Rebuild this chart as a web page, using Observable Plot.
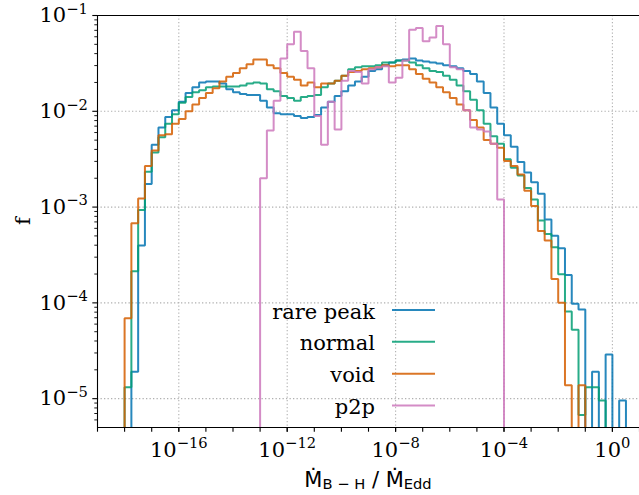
<!DOCTYPE html>
<html><head><meta charset="utf-8">
<script src="https://cdn.jsdelivr.net/npm/d3@7"></script>
<script src="https://cdn.jsdelivr.net/npm/@observablehq/plot@0.6"></script>
<style>html,body{margin:0;padding:0;background:#fff;}</style>
</head><body><div id="chart"></div>
<script>
// bin edges, as log10 of Mdot_BH / Mdot_Edd
const binEdgesExp = [
  -18,-17.75,-17.5,-17.25,-17,-16.75,-16.5,-16.25,
  -16,-15.75,-15.5,-15.25,-15,-14.75,-14.5,-14.25,
  -14,-13.75,-13.5,-13.25,-13,-12.75,-12.5,-12.25,
  -12,-11.75,-11.5,-11.25,-11,-10.75,-10.5,-10.25,
  -10,-9.75,-9.5,-9.25,-9,-8.75,-8.5,-8.25,
  -8,-7.75,-7.5,-7.25,-7,-6.75,-6.5,-6.25,
  -6,-5.75,-5.5,-5.25,-5,-4.75,-4.5,-4.25,
  -4,-3.75,-3.5,-3.25,-3,-2.75,-2.5,-2.25,
  -2,-1.75,-1.5,-1.25,-1,-0.75,-0.5,-0.25,
  0,0.25,0.5,0.75
];
// log10(f) per bin (null = empty bin)
const rarePeakLogF = [
  null,-4.72,-3.40,-2.76,-2.35,-2.17,-2.06,-1.99,
  -1.90,-1.81,-1.75,-1.70,-1.69,-1.69,-1.71,-1.77,
  -1.80,-1.82,-1.83,-1.83,-1.89,-1.96,-2.02,-2.03,
  -2.03,-2.05,-2.07,-2.06,-2.04,-1.96,-1.90,-1.84,
  -1.79,-1.73,-1.69,-1.64,-1.58,-1.56,-1.52,-1.49,
  -1.47,-1.46,-1.45,-1.47,-1.48,-1.49,-1.50,-1.52,
  -1.53,-1.55,-1.58,-1.61,-1.69,-1.81,-1.96,-2.13,
  -2.25,-2.37,-2.53,-2.64,-2.74,-2.86,-3.13,-3.30,
  -3.43,-3.71,-4.01,-4.07,null,-4.72,null,-4.54,
  null,-5.02,null
];
const normalLogF = [
  -4.88,-3.67,-3.03,-2.63,-2.43,-2.27,-2.13,-2.03,
  -1.91,-1.85,-1.80,-1.78,-1.75,-1.74,-1.74,-1.74,
  -1.74,-1.73,-1.71,-1.70,-1.71,-1.77,-1.79,-1.84,
  -1.86,-1.89,-1.85,-1.84,-1.83,-1.75,-1.71,-1.68,
  -1.63,-1.56,-1.54,-1.53,-1.53,-1.52,-1.49,-1.49,
  -1.47,-1.47,-1.49,-1.52,-1.55,-1.58,-1.59,-1.63,
  -1.67,-1.73,-1.79,-1.88,-1.99,-2.13,-2.26,-2.34,
  -2.50,-2.59,-2.67,-2.80,-2.92,-3.14,-3.28,-3.42,
  -3.70,-4.09,-4.28,-5.17,-4.88,-4.88,-5.02,null,
  null,null,null
];
const voidLogF = [
  -4.16,-3.17,-2.91,-2.57,-2.41,-2.25,-2.24,-2.13,
  -2.08,-2.00,-1.93,-1.86,-1.81,-1.76,-1.69,-1.64,
  -1.60,-1.55,-1.51,-1.46,-1.46,-1.52,-1.55,-1.60,
  -1.64,-1.67,-1.73,-1.70,-1.75,-1.71,-1.71,-1.68,
  -1.63,-1.59,-1.58,-1.56,-1.55,-1.54,-1.52,-1.53,
  -1.52,-1.52,-1.56,-1.61,-1.66,-1.70,-1.75,-1.80,
  -1.86,-1.93,-1.99,-2.09,-2.17,-2.30,-2.34,-2.38,
  -2.52,-2.57,-2.66,-2.83,-2.99,-3.25,-3.35,-3.75,
  -4.00,-4.86,null,-4.86,null,null,null,null,
  null,null,null
];
const p2pLogF = [
  null,null,null,null,null,null,null,null,
  null,null,null,null,null,null,null,null,
  null,null,null,null,-2.70,-2.20,-1.89,-1.45,
  -1.30,-1.17,-1.37,-1.55,-2.05,-2.35,-1.90,-2.19,
  -1.68,-1.58,-1.59,-1.71,-1.56,-1.54,-1.53,-1.70,
  -1.65,-1.47,-1.15,-1.13,-1.27,-1.23,-1.11,-1.30,
  -1.54,-1.56,-1.99,-2.17,-2.19,-2.21,-2.34,-2.92,
  null,null,null,null,null,null,null,null,
  null,null,null,null,null,null,null,null,
  null,null,null
];
const seriesNames = ["rare peak", "normal", "void", "p2p"];
const seriesColors = ["#0173b2", "#029e73", "#d55e00", "#cc78bc"];
const seriesLogF = [rarePeakLogF, normalLogF, voidLogF, p2pLogF];

const xLabelTicks = [1e-16, 1e-12, 1e-8, 1e-4, 1e0];
const xDecadeTicks = [1e-19,1e-18,1e-17,1e-16,1e-15,1e-14,1e-13,1e-12,1e-11,1e-10,1e-9,1e-8,1e-7,1e-6,1e-5,1e-4,1e-3,1e-2,1e-1,1e0,1e1];
const yMajorTicks = [1e-5, 1e-4, 1e-3, 1e-2, 1e-1];
const xDomain = [1e-19, 1e1];
const yDomain = [5e-6, 1e-1];

const yMinorTicks = [];
for (const d of [1e-6, 1e-5, 1e-4, 1e-3, 1e-2]) for (let k = 2; k <= 9; k++) {
  const v = k * d; if (v >= yDomain[0] && v <= yDomain[1]) yMinorTicks.push(v);
}

const FLOOR = 1e-9; // below the axis: steps fall to the frame bottom (clipped)
function stepVertices(name, logF) {
  const pts = [{series: name, x: 10 ** binEdgesExp[0], y: FLOOR}];
  logF.forEach((v, i) => {
    const y = v == null ? FLOOR : 10 ** v;
    pts.push({series: name, x: 10 ** binEdgesExp[i], y});
    pts.push({series: name, x: 10 ** binEdgesExp[i + 1], y});
  });
  pts.push({series: name, x: 10 ** binEdgesExp[logF.length], y: FLOOR});
  return pts;
}

const serif = "'DejaVu Serif', serif";
const sans = "'DejaVu Sans', sans-serif";
const fmt = d => "10^" + Math.round(Math.log10(d));
const gridStyle = {stroke: "#b0b0b0", strokeOpacity: 1, strokeWidth: 1.1, strokeDasharray: "1.3,2.2"};

const marks = [
  Plot.gridY(yMajorTicks, gridStyle),
  Plot.gridX(xLabelTicks, gridStyle),
  ...seriesNames.map((name, i) => Plot.line(stepVertices(name, seriesLogF[i]), {
    x: "x", y: "y", stroke: seriesColors[i], strokeWidth: 2, strokeOpacity: 0.85,
    strokeLinejoin: "miter", strokeLinecap: "butt", clip: true
  })),
  Plot.ruleY([yDomain[1]], {stroke: "black", strokeWidth: 1.1}),
  Plot.ruleY([yDomain[0]], {stroke: "black", strokeWidth: 1.1}),
  Plot.ruleX([xDomain[0]], {stroke: "black", strokeWidth: 1.1}),
  Plot.axisX(xDecadeTicks, {tickSize: 4.7, tickFormat: () => "", label: null, strokeWidth: 1.1}),
  Plot.axisX(xLabelTicks, {tickSize: 4.7, tickPadding: 9.4, tickFormat: fmt, label: null, strokeWidth: 1.1, fontSize: 21}),
  Plot.axisY(yMinorTicks, {tickSize: 2.7, tickFormat: () => "", label: null, strokeWidth: 0.9}),
  Plot.axisY(yMajorTicks, {tickSize: 4.7, tickPadding: 5, tickFormat: fmt, label: null, strokeWidth: 1.1, fontSize: 21})
];

const plot = Plot.plot({
  width: 639, height: 495,
  marginLeft: 97, marginRight: 0, marginTop: 15, marginBottom: 68,
  style: {fontFamily: serif, fontSize: "21px", background: "white", color: "black", overflow: "visible"},
  x: {type: "log", domain: xDomain, label: null},
  y: {type: "log", domain: yDomain, label: null},
  marks
});

// superscript exponents in tick labels
const NS = "http://www.w3.org/2000/svg";
plot.querySelectorAll('g[aria-label$="tick label"] text').forEach(t => {
  const s = t.textContent;
  if (!s.includes("^")) return;
  const [base, exp] = s.split("^");
  t.textContent = "";
  const b = document.createElementNS(NS, "tspan"); b.textContent = base; t.appendChild(b);
  const e = document.createElementNS(NS, "tspan");
  e.setAttribute("dy", "-8.5");
  e.setAttribute("font-size", "14.7");
  e.textContent = exp.replace("-", "\u2212");
  t.appendChild(e);
});

const svg = d3.select(plot);
const xs = plot.scale("x"), ys = plot.scale("y");
const xMid = (xs.range[0] + xs.range[1]) / 2;
const yMid = (ys.range[0] + ys.range[1]) / 2;

// y label
svg.append("text")
  .attr("transform", `translate(29.5,${yMid}) rotate(-90)`)
  .attr("text-anchor", "middle").attr("font-family", serif).attr("font-size", 21)
  .attr("fill", "black").text("f");

// x label: Ṁ_{B−H} / Ṁ_{Edd}
const xl = svg.append("text").attr("x", xMid).attr("y", 487)
  .attr("text-anchor", "middle").attr("font-family", sans).attr("font-size", 21).attr("fill", "black");
xl.append("tspan").text("\u1E40");
xl.append("tspan").attr("font-size", 14.7).attr("dy", 2).text("B \u2212 H");
xl.append("tspan").attr("dy", -2).text(" / \u1E40");
xl.append("tspan").attr("font-size", 14.7).attr("dy", 2).text("Edd");

// legend (no frame, labels left of handles)
const legendY0 = 310, legendDy = 31.85, legendTextRight = 375, handleX1 = 392, handleX2 = 435;
const lg = svg.append("g").attr("font-family", serif).attr("font-size", 21).attr("fill", "black");
seriesNames.forEach((name, i) => {
  const cy = legendY0 + i * legendDy;
  lg.append("text").attr("x", legendTextRight).attr("y", cy + 8.5).attr("text-anchor", "end").text(name);
  lg.append("line").attr("x1", handleX1).attr("x2", handleX2).attr("y1", cy).attr("y2", cy)
    .attr("stroke", seriesColors[i]).attr("stroke-width", 2).attr("stroke-opacity", 0.85);
});

document.getElementById("chart").appendChild(plot);
</script>
</body></html>
